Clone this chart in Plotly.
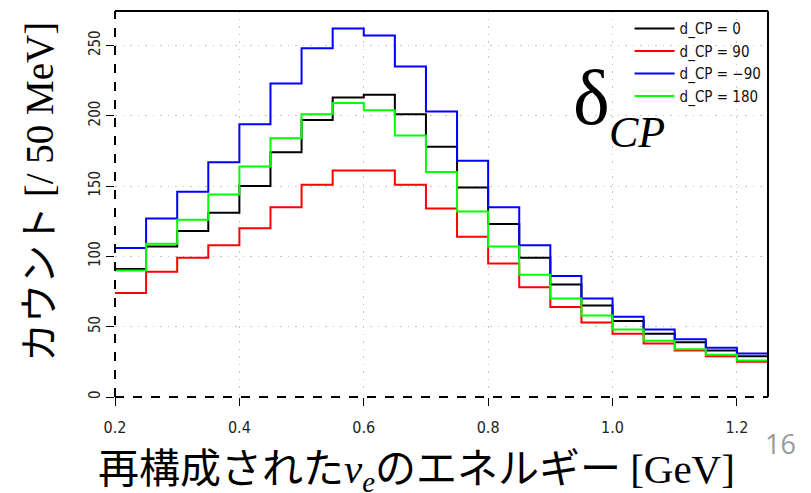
import plotly.graph_objects as go

# Bin edges of the reconstructed energy histogram (50 MeV bins)
bin_edges = [0.20, 0.25, 0.30, 0.35, 0.40, 0.45, 0.50, 0.55, 0.60, 0.65, 0.70,
             0.75, 0.80, 0.85, 0.90, 0.95, 1.00, 1.05, 1.10, 1.15, 1.20, 1.25]

# Event counts per bin for each delta_CP hypothesis
counts_0 = [91, 107, 118, 131, 150, 174, 197, 213, 215, 201, 178,
            149, 123, 99, 80, 65, 54, 45, 39, 33, 29]
counts_90 = [74, 89, 99, 108, 120, 135, 151, 161, 161, 151, 134,
             114, 95, 78, 64, 53, 45, 38, 33, 29, 25]
counts_m90 = [106, 127, 146, 167, 194, 223, 248, 262, 257, 235, 203,
              168, 135, 108, 86, 70, 57, 48, 41, 35, 31]
counts_180 = [90, 109, 126, 144, 164, 184, 201, 209, 204, 186, 160,
              132, 107, 87, 70, 58, 48, 40, 34, 30, 26]

series_names = ["d_CP\u00a0=\u00a00", "d_CP\u00a0=\u00a090",
                "d_CP\u00a0=\u00a0−90", "d_CP\u00a0=\u00a0180"]
series_counts = [counts_0, counts_90, counts_m90, counts_180]
series_colors = ["#000000", "#ff0000", "#0000ff", "#00ff00"]

x_ticks = [0.2, 0.4, 0.6, 0.8, 1.0, 1.2]
y_ticks = [0, 50, 100, 150, 200, 250]

NARROW = "Liberation Sans Narrow, DejaVu Sans Condensed, sans-serif"
SERIF = "Liberation Serif, serif"
JP = "Noto Sans CJK JP, sans-serif"

fig = go.Figure()
for name, vals, col in zip(series_names, series_counts, series_colors):
    # step histogram: each value holds from its left edge to the next edge
    fig.add_trace(go.Scatter(
        x=bin_edges,
        y=vals + [vals[-1]],
        mode="lines",
        line=dict(shape="hv", color=col, width=2),
        name=name,
    ))

fig.update_layout(
    width=811, height=493,
    margin=dict(l=115, r=43, t=11, b=96),
    paper_bgcolor="white", plot_bgcolor="white",
    showlegend=True,
    legend=dict(
        x=0.788, y=0.997, xanchor="left", yanchor="top",
        bgcolor="rgba(0,0,0,0)", borderwidth=0,
        font=dict(family=NARROW, size=15, color="#111"),
        tracegroupgap=0, itemwidth=40,
    ),
    xaxis=dict(
        range=[0.2, 1.25], tickvals=x_ticks, tickformat=".1f",
        ticks="outside", ticklen=8, tickcolor="black", tickwidth=1,
        ticklabelstandoff=8,
        showgrid=True, gridcolor="#c4c4c4", griddash="1.5px,6px", gridwidth=1,
        zeroline=False, showline=False,
        tickfont=dict(family=NARROW, size=16, color="#222"),
    ),
    yaxis=dict(
        range=[0, 274.5], tickvals=y_ticks,
        ticks="outside", ticklen=8, tickcolor="black", tickwidth=1,
        tickangle=-90,
        showgrid=True, gridcolor="#c4c4c4", griddash="1.5px,6px", gridwidth=1,
        zeroline=False, showline=False,
        tickfont=dict(family=NARROW, size=15, color="#222"),
    ),
)

# plot frame: solid top/right, dashed left/bottom axes
fig.add_shape(type="line", xref="paper", yref="paper", x0=0, x1=1, y0=1, y1=1,
              line=dict(color="black", width=2))
fig.add_shape(type="line", xref="paper", yref="paper", x0=1, x1=1, y0=0, y1=1,
              line=dict(color="black", width=2))
fig.add_shape(type="line", xref="paper", yref="paper", x0=0, x1=1, y0=0, y1=0,
              line=dict(color="black", width=2, dash="dash"))
fig.add_shape(type="line", xref="paper", yref="paper", x0=0, x1=0, y0=0, y1=1,
              line=dict(color="black", width=2, dash="dash"))

# delta_CP label inside the plot
fig.add_annotation(xref="paper", yref="paper", x=0.730, y=0.775, xanchor="center",
                   yanchor="middle", showarrow=False, text="δ",
                   font=dict(family=SERIF, size=78, color="black"))
fig.add_annotation(xref="paper", yref="paper", x=0.800, y=0.684, xanchor="center",
                   yanchor="middle", showarrow=False, text="<i>CP</i>",
                   font=dict(family=SERIF, size=44, color="black"))

# axis titles
fig.add_annotation(
    xref="paper", yref="paper", x=0.461, y=-0.179, xanchor="center", yanchor="middle",
    showarrow=False,
    text=('再構成された<span style="font-family:Liberation Serif"><i>ν<sub>e</sub></i></span>'
          'のエネルギー <span style="font-family:Liberation Serif">[GeV]</span>'),
    font=dict(family=JP, size=41, color="black"),
)
fig.add_annotation(
    xref="paper", yref="paper", x=-0.121, y=0.531, xanchor="center", yanchor="middle",
    showarrow=False, textangle=-90,
    text='カウント <span style="font-family:Liberation Serif">[/ 50 MeV]</span>',
    font=dict(family=JP, size=39, color="black"),
)

# page number
fig.add_annotation(xref="paper", yref="paper", x=0.993, y=-0.12, xanchor="left",
                   yanchor="middle", showarrow=False, text="16",
                   font=dict(family="Open Sans, sans-serif", size=27, color="#9a9a9a"))

fig.write_html("out.html")
